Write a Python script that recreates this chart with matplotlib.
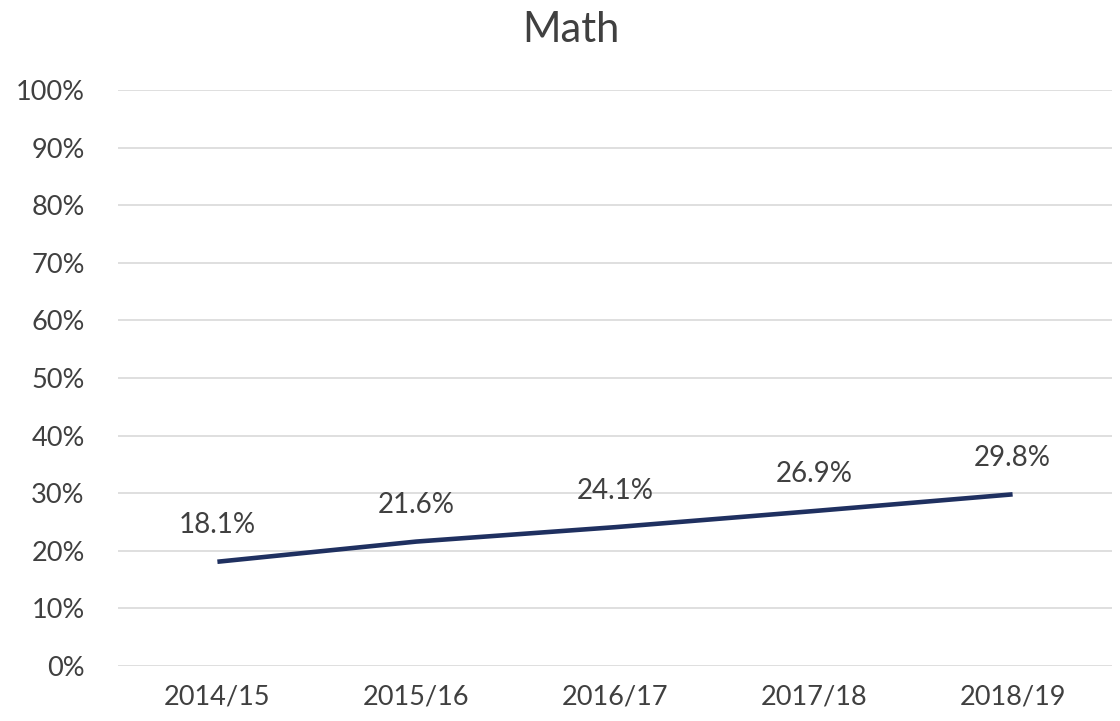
import matplotlib.pyplot as plt
from matplotlib.ticker import PercentFormatter

years = ["2014/15", "2015/16", "2016/17", "2017/18", "2018/19"]
math_pct = [18.1, 21.6, 24.1, 26.9, 29.8]

plt.rcParams['font.family'] = ['Lato', 'DejaVu Sans']
text_color = '#404040'

fig = plt.figure(figsize=(11.2, 7.21), dpi=100)
ax = fig.add_axes([118 / 1120, 1 - 666 / 721, (1112 - 118) / 1120, (666 - 90) / 721])

x = range(len(years))
ax.plot(x, math_pct, color='#1f3060', linewidth=3.3, solid_capstyle='butt')

for i, v in zip(x, math_pct):
    ax.annotate(f"{v:.1f}%", (i, v), xytext=(0, 17), textcoords='offset points',
                ha='center', va='bottom', fontsize=20, color=text_color)

ax.set_xlim(-0.5, len(years) - 0.5)
ax.set_ylim(0, 100)
ax.set_yticks(range(0, 101, 10))
ax.yaxis.set_major_formatter(PercentFormatter(decimals=0))
ax.set_xticks(list(x))
ax.set_xticklabels(years)
ax.tick_params(axis='both', length=0, labelsize=19.5, labelcolor=text_color)
ax.tick_params(axis='x', pad=13)
ax.tick_params(axis='y', pad=24)

ax.grid(axis='y', color='#d9d9d9', linewidth=1.2)
ax.set_axisbelow(True)
for s in ax.spines.values():
    s.set_visible(False)

fig.text(571 / 1120, 1 - 30 / 721, "Math", ha='center', va='center', fontsize=30, color=text_color)

fig.savefig("out.png", dpi=100)
